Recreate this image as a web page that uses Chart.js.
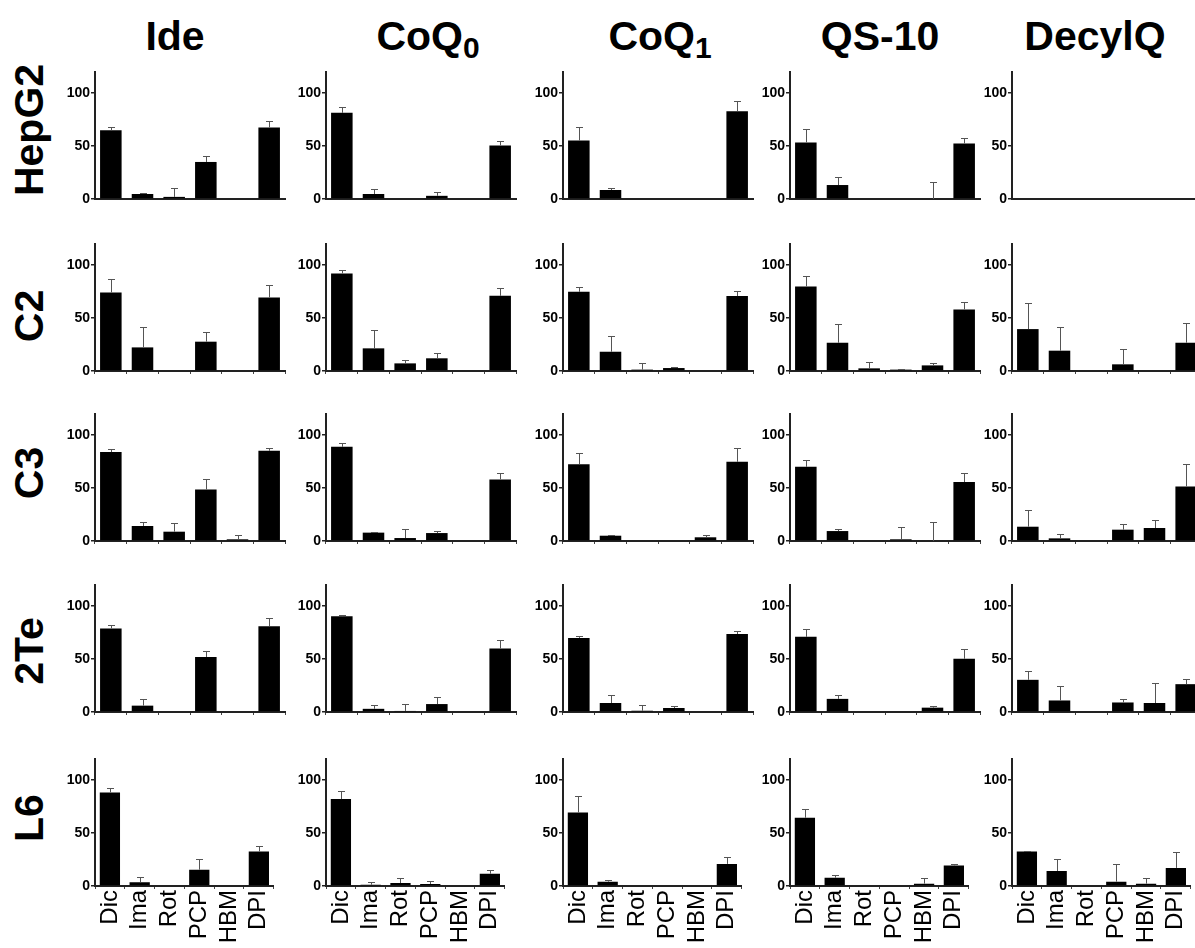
<!DOCTYPE html>
<html><head><meta charset="utf-8">
<script src="https://cdn.jsdelivr.net/npm/chart.js@4"></script>
<style>
html,body{margin:0;padding:0;background:#fff;width:1195px;height:948px;overflow:hidden;position:relative;font-family:"Liberation Sans",Arial,sans-serif;}
.title{position:absolute;font-weight:bold;font-size:41px;line-height:40px;top:16px;transform:translateX(-50%);white-space:nowrap;color:#000;}
.rowlab{position:absolute;font-weight:bold;font-size:41px;line-height:40px;white-space:nowrap;transform:translate(-50%,-50%) rotate(-90deg);color:#000;}
.sub{font-size:30px;position:relative;top:8px;}
canvas{position:absolute;}
</style></head><body>
<script>
// ---- data ----
const categories = ['Dic','Ima','Rot','PCP','HBM','DPI'];
const compounds = ['Ide','CoQ0','CoQ1','QS-10','DecylQ'];
const cellLines = ['HepG2','C2','C3','2Te','L6'];
const yTicks = [0, 50, 100];

// rows = cell lines (HepG2, C2, C3, 2Te, L6), columns = categories
const ideMean = [
  [65, 4.7, 2, 35, 0, 67.6],
  [74.2, 22.3, 0, 27.7, 0, 69.5],
  [84, 14.2, 8.8, 48.7, 1.6, 85.2],
  [79, 6, 0, 52, 0, 81],
  [88.4, 3.5, 0, 15.4, 0, 32.6]
];
const ideErr = [
  [3.5, 0.5, 8, 6, 0, 6.5],
  [12.3, 19.7, 0, 8.8, 0, 11.9],
  [3, 3.4, 7.9, 9.5, 3.7, 2.8],
  [3, 6, 0, 5.5, 0, 7.6],
  [4.6, 5, 0, 10.3, 0, 5]
];
const coq0Mean = [
  [81.4, 4.7, 0, 3, 0, 50.6],
  [92.2, 21.4, 7.2, 12, 0, 71],
  [89, 7.9, 2.8, 7.5, 0, 58.2],
  [90.5, 3, 1, 7.5, 0, 60],
  [82.1, 1.2, 2.8, 1.9, 0, 11.6]
];
const coq0Err = [
  [5.1, 4.3, 0, 4, 0, 3.8],
  [2.8, 17.3, 2.8, 4.7, 0, 7],
  [3.5, 0.9, 8.2, 1.9, 0, 5.8],
  [1, 3.6, 6.5, 6.5, 0, 8],
  [7.5, 2.8, 5.1, 2.8, 0, 3.1]
];
const coq1Mean = [
  [55.3, 8.5, 0, 0, 0, 83],
  [74.8, 18.2, 1.3, 2.8, 0, 70.8],
  [72.6, 5, 0, 0, 3.5, 74.8],
  [70, 8.5, 1.2, 3.8, 0, 73.7],
  [69.5, 4.1, 0, 0, 0, 20.9]
];
const coq1Err = [
  [12.3, 2.2, 0, 0, 0, 9.7],
  [4.8, 15.1, 5.9, 0.7, 0, 5],
  [10.7, 0.3, 0, 0, 2.5, 13.2],
  [2, 7.5, 5.7, 2.2, 0, 2.8],
  [15.2, 1.9, 0, 0, 0, 6.2]
];
const qs10Mean = [
  [53.5, 13.2, 0, 0, 0, 52.5],
  [79.9, 26.7, 2.5, 1.3, 5.3, 58.2],
  [70.1, 9.4, 0, 1.6, 0, 55.7],
  [71, 12.4, 0, 0, 4.1, 50.3],
  [64.5, 7.9, 0, 0, 2.2, 19.4]
];
const qs10Err = [
  [12.5, 7.2, 0, 0, 16.3, 5],
  [10.1, 17.9, 6, 0.6, 1.9, 6.6],
  [6.9, 2.2, 0, 11.3, 17.6, 8.3],
  [7, 4.1, 0, 0, 1.5, 9.1],
  [7.9, 2.8, 0, 0, 5.7, 1.8]
];
const decylMean = [
  [0, 0, 0, 0, 0, 0],
  [39.6, 19.2, 0, 6.3, 0, 26.7],
  [13.5, 2.5, 0, 10.7, 12.3, 51.6],
  [30.4, 10.9, 0, 9, 8.5, 26.3],
  [32.6, 14.2, 0, 4.1, 2.2, 17.1]
];
const decylErr = [
  [0, 0, 0, 0, 0, 0],
  [24.9, 22.6, 0, 14.1, 0, 18.6],
  [15.7, 4.4, 0, 5, 7.2, 20.8],
  [8.2, 14.1, 0, 3.4, 18.5, 4.7],
  [0.4, 11.4, 0, 16.3, 5.7, 14.6]
];

const meansByCompound = [ideMean, coq0Mean, coq1Mean, qs10Mean, decylMean];
const errsByCompound = [ideErr, coq0Err, coq1Err, qs10Err, decylErr];

// ---- layout ----
const colAxisX = [95, 326, 563, 790, 1012];
const rowZeroY = [199, 371, 541, 712, 886];
const titleX = [175, 428, 660, 880, 1095];
const rowLabelY = [130, 316, 473, 651, 818];
const PLOT_W = 190, PLOT_H = 127, PAD_T = 12, YW = 45, PAD_R = 4;

Chart.defaults.font.family = '"Liberation Sans", Arial, sans-serif';

const errorBarPlugin = {
  id: 'errorBars',
  afterDatasetsDraw(chart) {
    const ctx = chart.ctx;
    const ys = chart.scales.y;
    chart.data.datasets.forEach((ds, di) => {
      const meta = chart.getDatasetMeta(di);
      meta.data.forEach((bar, i) => {
        const e = ds.errors[i];
        if (!e) return;
        const v = ds.data[i];
        const y0 = ys.getPixelForValue(v);
        const y1 = Math.round(ys.getPixelForValue(v + e)) + 0.5;
        const x = Math.round(bar.x) + 0.5;
        ctx.save();
        ctx.strokeStyle = '#555';
        ctx.lineWidth = 1;
        ctx.beginPath();
        ctx.moveTo(x, y0);
        ctx.lineTo(x, y1);
        ctx.moveTo(x - 3.5, y1);
        ctx.lineTo(x + 3.5, y1);
        ctx.stroke();
        ctx.restore();
      });
    });
  }
};

// titles
compounds.forEach((name, c) => {
  const d = document.createElement('div');
  d.className = 'title';
  const m = name.match(/^(CoQ)(\d)$/);
  if (m) {
    d.appendChild(document.createTextNode(m[1]));
    const s = document.createElement('span');
    s.className = 'sub';
    s.textContent = m[2];
    d.appendChild(s);
  } else {
    d.textContent = name;
  }
  d.style.left = titleX[c] + 'px';
  document.body.appendChild(d);
});

// row labels
cellLines.forEach((name, r) => {
  const d = document.createElement('div');
  d.className = 'rowlab';
  d.textContent = name;
  d.style.left = '29px';
  d.style.top = rowLabelY[r] + 'px';
  document.body.appendChild(d);
});

// panels
cellLines.forEach((line, r) => {
  compounds.forEach((comp, c) => {
    const isBottom = r === cellLines.length - 1;
    const xh = isBottom ? 72 : 10;
    const cv = document.createElement('canvas');
    const W = YW + PLOT_W + PAD_R;
    const H = PAD_T + PLOT_H + xh;
    cv.width = W; cv.height = H;
    cv.style.width = W + 'px'; cv.style.height = H + 'px';
    cv.style.left = (colAxisX[c] - YW) + 'px';
    cv.style.top = (rowZeroY[r] - PLOT_H - PAD_T) + 'px';
    document.body.appendChild(cv);
    new Chart(cv, {
      type: 'bar',
      data: {
        labels: categories,
        datasets: [{
          data: meansByCompound[c][r],
          errors: errsByCompound[c][r],
          backgroundColor: '#000',
          borderWidth: 0,
          barPercentage: 0.68,
          categoryPercentage: 1
        }]
      },
      options: {
        responsive: false,
        animation: false,
        devicePixelRatio: 1,
        layout: { padding: { top: PAD_T, right: PAD_R, left: 0, bottom: 0 } },
        plugins: { legend: { display: false }, tooltip: { enabled: false }, title: { display: false } },
        scales: {
          x: {
            offset: true,
            grid: { display: r > 0, drawOnChartArea: false, tickLength: 3, color: '#444', lineWidth: 1, offset: true },
            border: { display: true, color: '#222', width: 2 },
            ticks: {
              display: isBottom, minRotation: 90, maxRotation: 90, autoSkip: false,
              font: { size: 24 }, color: '#000', padding: 1
            },
            afterFit: s => { s.height = xh; }
          },
          y: {
            min: 0, max: 120,
            afterBuildTicks: s => { s.ticks = yTicks.map(v => ({ value: v })); },
            grid: { drawOnChartArea: false, tickLength: 4, color: '#222', lineWidth: 1.5 },
            border: { display: true, color: '#222', width: 2 },
            ticks: { font: { size: 14, weight: 'bold' }, color: '#000', padding: 1 },
            afterFit: s => { s.width = YW; }
          }
        }
      },
      plugins: [errorBarPlugin]
    });
  });
});
</script>
</body></html>
